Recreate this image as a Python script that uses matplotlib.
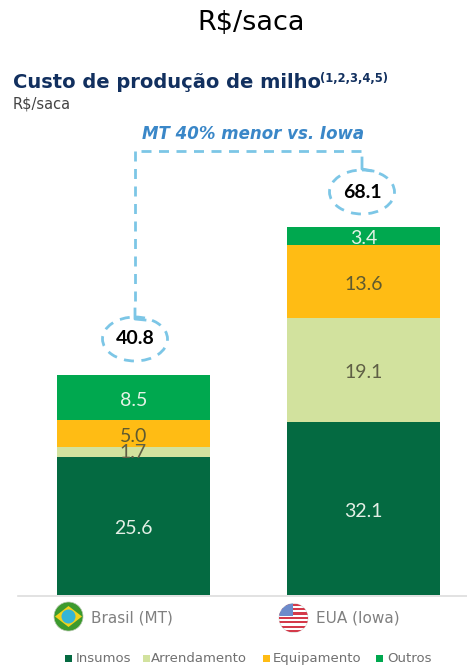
import matplotlib
matplotlib.use("Agg")
import matplotlib.pyplot as plt
from matplotlib.patches import Ellipse, Circle, Polygon, Rectangle

W, H = 467, 666

categories = ["Brasil (MT)", "EUA (Iowa)"]
series_names = ["Insumos", "Arrendamento", "Equipamento", "Outros"]
insumos = [25.6, 32.1]
arrendamento = [1.7, 19.1]
equipamento = [5.0, 13.6]
outros = [8.5, 3.4]
totals = [40.8, 68.1]

colors = ["#046A41", "#D2E29E", "#FFBC14", "#00A84F"]
label_colors = ["#E4EFE6", "#5F5F45", "#5F5A30", "#E4F3E6"]
dash_blue = "#7CC6E6"
plt.rcParams["lines.scale_dashes"] = False
plt.rcParams["patch.force_edgecolor"] = False
dashes = (0, (7.2, 5.4))
font = "Lato"


def box(x0, y0, x1, y1):
    return [x0 / W, 1 - y1 / H, (x1 - x0) / W, (y1 - y0) / H]


fig = plt.figure(figsize=(W / 100, H / 100), dpi=100)

# chart axes: bar centres at 133.5 and 363.5 px, base at 595 px
ax = fig.add_axes(box(18, 227, 467, 595))
ax.set_xlim((18 - 133.5) / 230, (467 - 133.5) / 230)
ax.set_ylim(0, 68.1)
ax.axis("off")

bottom = [0, 0]
for vals, col, lcol in zip([insumos, arrendamento, equipamento, outros], colors, label_colors):
    bars = ax.bar(range(2), vals, 0.665, bottom=bottom, color=col, label="_")
    for i, rect in enumerate(bars):
        offs = -0.15 if vals[i] == 1.7 else -0.55
        ax.text(i, bottom[i] + vals[i] / 2 + offs, f"{vals[i]:.1f}", ha="center", va="center",
                color=lcol, fontsize=14, family=font)
    bottom = [b + v for b, v in zip(bottom, vals)]

# overlay in pixel coordinates for the callouts, flags and legend
ov = fig.add_axes([0, 0, 1, 1])
ov.set_xlim(0, W)
ov.set_ylim(H, 0)
ov.axis("off")
ov.patch.set_alpha(0)

ov.plot([18, 467], [595.5, 595.5], color="#DDDDDD", lw=1.2)

ov.text(251, 23, "R$/saca", ha="center", va="center", fontsize=19.5, color="black")
ov.text(13, 82, "Custo de produção de milho", fontsize=14, fontweight="bold", color="#12305F",
        va="center", family="DejaVu Sans")
ov.text(320, 78, "(1,2,3,4,5)", fontsize=8.3, fontweight="bold", color="#12305F", va="center", family="DejaVu Sans")
ov.text(13, 104, "R$/saca", fontsize=10.5, color="#444444", va="center", family="DejaVu Sans")
ov.text(253, 134, "MT 40% menor vs. Iowa", fontsize=12, fontweight="bold", fontstyle="italic",
        color="#3A87C8", ha="center", va="center", family="DejaVu Sans")

# dashed connector between the two totals
ov.plot([135, 135], [151, 303], color=dash_blue, lw=2, ls=dashes)
ov.plot([141, 362], [151, 151], color=dash_blue, lw=2, ls=dashes)
ov.plot([135, 135, 145], [309, 319, 320], color=dash_blue, lw=2)
ov.plot([362, 362, 373], [158, 169, 171], color=dash_blue, lw=2)
for x, y, t in [(135, 339, totals[0]), (362, 192, totals[1])]:
    ov.add_patch(Ellipse((x, y), 65, 44, fill=False, ec=dash_blue, lw=2, ls=dashes))
    ov.text(x, y, f"{t:.1f}", ha="center", va="center", fontsize=14, fontweight="bold", color="black", family=font)

# Brazil flag
ov.add_patch(Circle((68.5, 616.5), 14.5, fc="#3C9A2E", ec="#B8C8B0", lw=0.5))
ov.add_patch(Polygon([(55, 616.5), (68.5, 606), (82, 616.5), (68.5, 627)], fc="#F2D21B", ec="none"))
ov.add_patch(Circle((68.5, 616.5), 7, fc="#35B5D5", ec="none"))

# US flag
clip = Circle((293.5, 618), 14.5, fc="white", ec="#D8D8D8", lw=0.5)
ov.add_patch(clip)
for i in range(7):
    s = Rectangle((278, 603.5 + i * 4.4), 31, 2.2, fc="#D43A4A", ec="none")
    ov.add_patch(s)
    s.set_clip_path(clip)
c = Rectangle((278, 603), 15, 13, fc="#6C8BCB", ec="none")
ov.add_patch(c)
c.set_clip_path(clip)

for i, cat in enumerate(categories):
    ov.text([91, 316][i], 618, cat, fontsize=11, color="#808080", va="center", family="DejaVu Sans")

# legend
for name, col, sx, tx in zip(series_names, colors, [65, 143, 263, 376], [76, 151, 273, 387]):
    ov.add_patch(Rectangle((sx, 655), 7, 7, fc=col, ec="none"))
    ov.text(tx, 662, name, fontsize=9.5, color="#707070", va="baseline", family="DejaVu Sans")

fig.savefig("out.png", dpi=100)
